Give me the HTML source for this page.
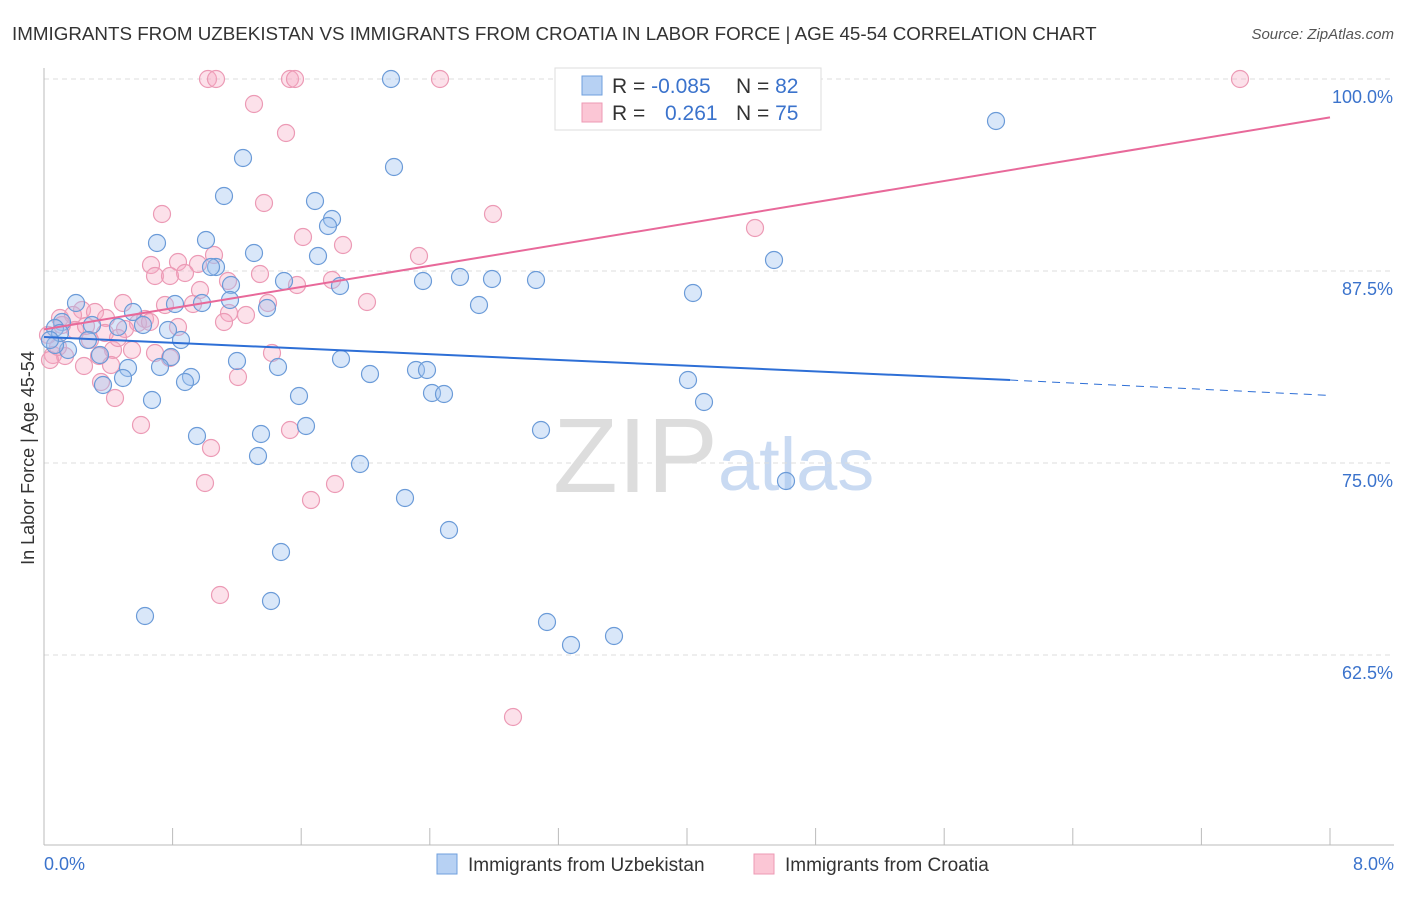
<!DOCTYPE html>
<html><head><meta charset="utf-8"><style>
body{margin:0;background:#fff;font-family:"Liberation Sans",sans-serif;}
svg text{font-family:"Liberation Sans",sans-serif;}
</style></head><body>
<svg id="c" width="1406" height="892">
<text x="12" y="40" font-size="18.8" fill="#333">IMMIGRANTS FROM UZBEKISTAN VS IMMIGRANTS FROM CROATIA IN LABOR FORCE | AGE 45-54 CORRELATION CHART</text>
<text x="1394" y="39" font-size="15" fill="#555" font-style="italic" text-anchor="end">Source: ZipAtlas.com</text>
<text x="34" y="458" font-size="18" fill="#333" text-anchor="middle" transform="rotate(-90 34 458)">In Labor Force | Age 45-54</text>
<g><text x="553" y="492" font-size="106" fill="#ddd" font-family="Liberation Serif">ZIP</text><text x="718" y="490" font-size="74" fill="#c9daf2">atlas</text></g>
<g id="grid"></g><g id="pts"></g><g id="lines"></g>
<g>
<rect x="555" y="68" width="266" height="62" fill="#fff" stroke="#ddd"/>
<rect x="582" y="76" width="20" height="19" fill="#b7d1f3" stroke="#6f9fde"/>
<rect x="582" y="103" width="20" height="19" fill="#fbc6d5" stroke="#ee99b4"/>
<text x="612" y="93" font-size="21" fill="#333">R = <tspan fill="#3b73cc">-0.085</tspan></text>
<text x="736" y="93" font-size="21" fill="#333">N = <tspan fill="#3b73cc">82</tspan></text>
<text x="612" y="120" font-size="21" fill="#333">R = <tspan fill="#3b73cc" x="665">0.261</tspan></text>
<text x="736" y="120" font-size="21" fill="#333">N = <tspan fill="#3b73cc">75</tspan></text>
</g>
<g>
<rect x="437" y="854" width="20" height="20" fill="#b7d1f3" stroke="#6f9fde"/>
<text x="468" y="871" font-size="19" fill="#333">Immigrants from Uzbekistan</text>
<rect x="754" y="854" width="20" height="20" fill="#fbc6d5" stroke="#ee99b4"/>
<text x="785" y="871" font-size="19" fill="#333">Immigrants from Croatia</text>
</g>
</svg>
<script>
const blueX=[391,996,243,394,224,315,332,328,157,206,254,318,216,211,284,340,423,460,492,536,231,230,202,175,267,479,774,693,76,133,62,55,92,118,143,168,181,88,68,100,171,237,341,160,128,278,370,416,427,123,191,185,103,688,432,444,299,152,704,306,541,197,261,258,360,786,405,449,281,145,271,547,614,571,55,60,50].map(p=>(p-44)/1286*8);
const blueY=[79,121,158,167,196,201,219,226,243,240,253,256,267,267,281,286,281,277,279,280,285,300,303,304,308,305,260,293,303,312,322,328,325,327,325,330,340,340,350,355,357,361,359,367,368,367,374,370,370,378,377,382,385,380,393,394,396,400,402,426,430,436,434,456,464,481,498,530,552,616,601,622,636,645,345,333,340].map(p=>100-(p-79)/15.36);
const pinkX=[208,216,290,295,440,1240,254,286,264,162,493,755,303,343,214,419,151,178,198,155,185,228,260,332,297,170,367,123,165,193,268,82,95,60,73,106,229,246,145,138,178,125,224,105,90,113,132,155,53,65,99,272,170,111,84,238,101,115,141,290,211,205,335,311,220,513,50,58,75,48,62,86,118,150,200].map(p=>(p-44)/1286*8);
const pinkY=[79,79,79,79,79,79,104,133,203,214,214,228,237,245,255,256,265,262,264,276,273,281,274,280,285,276,302,303,305,304,303,310,312,318,315,318,313,315,319,323,327,329,322,333,340,350,350,353,355,356,356,353,358,365,366,377,382,398,425,430,448,483,484,500,595,717,360,347,330,335,325,326,338,322,290].map(p=>100-(p-79)/15.36);
const blueTrend=[83.2,80.4,79.4];
const pinkTrend=[83.7,97.5];
const yTicks=[100,87.5,75,62.5];
const X=v=>44+v/8*1286, Y=v=>79+(100-v)*15.36;
const ns="http://www.w3.org/2000/svg";
function mk(par,tag,at){const e=document.createElementNS(ns,tag);for(const k in at)e.setAttribute(k,at[k]);par.appendChild(e);return e;}
const g=document.getElementById('grid');
yTicks.forEach(t=>{
 const l=mk(g,'line',{x1:44,x2:1394,y1:Y(t),y2:Y(t),stroke:'#ddd','stroke-dasharray':'5,4'});
 
 
 const tx=mk(g,'text',{x:1393,y:Y(t)+24,'font-size':18,fill:'#3b73cc','text-anchor':'end'});tx.textContent=t.toFixed(1)+'%';
 
 
});
const ax=mk(g,'line',{x1:44,x2:1394,y1:845,y2:845,stroke:'#bbb'});


const ay=mk(g,'line',{x1:44,x2:44,y1:68,y2:845,stroke:'#bbb'});


for(let i=0;i<=10;i++){const t=mk(g,'line',{x1:X(i*0.8),x2:X(i*0.8),y1:828,y2:845,stroke:'#bbb'});
 
 }
[['0.0%',44,'start'],['8.0%',1394,'end']].forEach(a=>{const t=mk(g,'text',{x:a[1],y:870,'font-size':18,fill:'#3b73cc','text-anchor':a[2]});t.textContent=a[0];
 
 });
const p=document.getElementById('pts');
pinkX.forEach((v,i)=>{const c=mk(p,'circle',{cx:X(v),cy:Y(pinkY[i]),r:8.5,fill:'rgba(247,170,196,0.35)',stroke:'#ec9ab5','stroke-width':1.2});
 
 });
blueX.forEach((v,i)=>{const c=mk(p,'circle',{cx:X(v),cy:Y(blueY[i]),r:8.5,fill:'rgba(160,195,240,0.4)',stroke:'#6b9bd8','stroke-width':1.2});
 
 });
const L=document.getElementById('lines');
const b1=mk(L,'line',{x1:X(0),y1:Y(blueTrend[0]),x2:X(6.01),y2:Y(blueTrend[1]),stroke:'#2e6fd6','stroke-width':2});


const b2=mk(L,'line',{x1:X(6.01),y1:Y(blueTrend[1]),x2:X(8),y2:Y(blueTrend[2]),stroke:'#2e6fd6','stroke-width':1,'stroke-dasharray':'8,6'});


const pl=mk(L,'line',{x1:X(0),y1:Y(pinkTrend[0]),x2:X(8),y2:Y(pinkTrend[1]),stroke:'#e8699a','stroke-width':2});


</script>
</body></html>
